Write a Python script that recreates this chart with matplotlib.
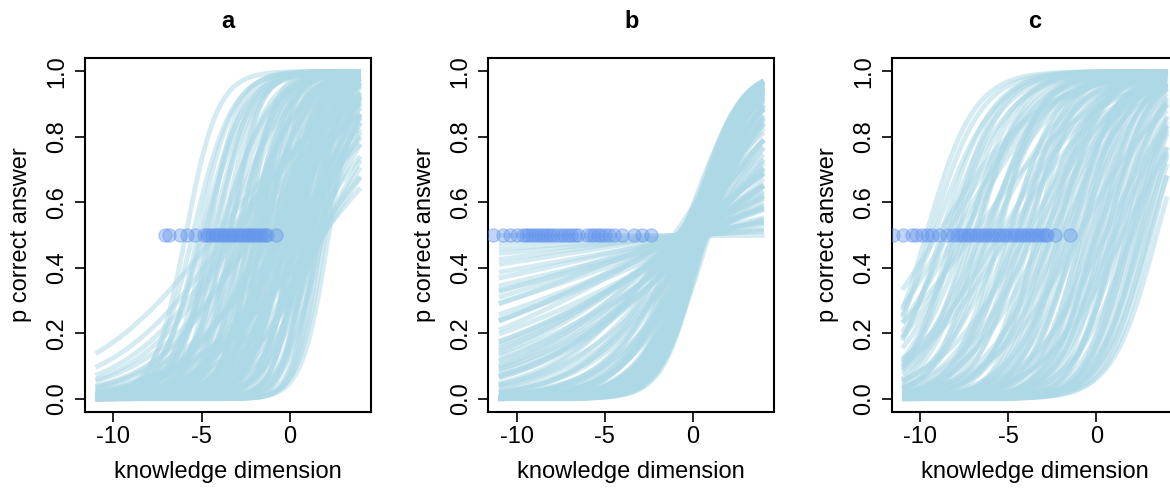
import numpy as np
import matplotlib
matplotlib.use('Agg')
import matplotlib.pyplot as plt

plt.rcParams['font.family'] = ['Liberation Sans', 'DejaVu Sans']
plt.rcParams['axes.unicode_minus'] = False

panel_titles = ['a', 'b', 'c']
x_from, x_to = -11, 4
x_ticks = [-10, -5, 0]
y_ticks = [0.0, 0.2, 0.4, 0.6, 0.8, 1.0]

# logistic curves, one (slope, location) pair per line
slopes_a = [1.1, 0.9, 1.0, 0.8, 1.2, 0.9, 0.7, 1.1, 0.8, 1.3, 0.9, 0.6, 1.0, 1.4,
            0.8, 1.1, 0.7, 1.2, 0.9, 1.5, 1.0, 0.8, 1.3, 1.1, 0.9, 1.6, 1.2, 1.0,
            1.4, 1.8, 1.5, 1.2, 1.7, 1.6, 1.5, 1.35, 0.75, 0.65, 0.7, 0.6, 0.75,
            0.95, 1.05, 0.85,
            0.85, 1.0, 0.95, 1.15, 0.75, 0.9, 1.25, 0.8, 1.0, 1.1, 0.7, 0.95, 1.2,
            0.85, 1.3, 0.9, 1.05, 0.8, 1.4, 1.0, 0.9, 1.15, 0.75, 1.25, 1.1, 0.95,
            1.3, 1.0, 0.85, 1.2, 1.5, 1.1, 0.9, 1.35, 1.0, 1.6, 1.25, 1.45, 0.8, 0.7,
            0.27, 0.3, 0.35, 0.4, 0.32, 0.45, 0.38, 0.5, 0.3, 0.42, 0.55, 0.35,
            0.6, 0.3, 0.45, 0.27, 0.5, 0.4, 0.35,
            0.33, 0.37, 0.42, 0.48, 0.52, 0.58, 0.62, 0.44, 0.36, 0.55]
centres_a = [-5.9, -5.5, -5.2, -4.9, -4.6, -4.3, -4.0, -3.8, -3.5, -3.3, -3.0, -2.8,
             -2.6, -2.4, -2.2, -2.0, -1.8, -1.6, -1.4, -1.2, -1.0, -0.8, -0.6, -0.4,
             -0.2, 0.0, 0.2, 0.4, 0.6, 0.8, 1.0, 1.2, 1.4, 1.6, 1.8, 2.2, -0.9, 0.1,
             1.0, -3.6, 1.6, 0.9, -1.9, 0.0,
             -5.0, -4.7, -4.4, -4.1, -3.9, -3.6, -3.4, -3.1, -2.9, -2.7, -2.5, -2.3,
             -2.1, -1.9, -1.7, -1.5, -1.3, -1.1, -0.9, -0.7, -0.5, -0.3, -0.1, 0.1,
             0.3, 0.5, 0.7, 0.9, 1.1, 1.3, 1.5, 1.7, 1.9, 2.0, -0.2, 0.4, 0.8, 1.2,
             -1.6, -0.6,
             -4.2, -3.5, -3.0, -2.5, -2.0, -1.5, -1.0, -0.5, -0.2, 0.3, 0.6, 1.0,
             1.2, 1.5, 1.8, 1.8, 1.5, 1.8, 1.9,
             -3.2, -2.2, -1.2, -0.3, 0.5, 1.1, 1.6, 0.8, 0.2, -0.8]

slopes_b = [0.0, 0.01, 0.02, 0.03, 0.04, 0.05, 0.06, 0.07, 0.08, 0.09, 0.1, 0.11,
            0.12, 0.13, 0.14, 0.15, 0.16, 0.17, 0.18, 0.19, 0.2, 0.21, 0.22, 0.23,
            0.24,
            0.015, 0.035, 0.055, 0.075, 0.095, 0.115, 0.135, 0.155, 0.175, 0.195,
            0.215, 0.235,
            0.27, 0.3, 0.32, 0.35, 0.38, 0.4, 0.43, 0.46, 0.5, 0.53, 0.56, 0.6,
            0.63, 0.66, 0.7, 0.72, 0.75, 0.78, 0.81, 0.82, 0.85, 0.87, 0.9, 0.93,
            0.92, 0.98, 1.0, 0.6, 0.7, 0.8, 0.9, 0.5, 0.65, 0.75, 0.85,
            0.26, 0.29, 0.31, 0.34, 0.37, 0.39, 0.42, 0.45, 0.48, 0.51, 0.54, 0.57,
            0.59, 0.62, 0.64, 0.67, 0.69, 0.71, 0.73, 0.76, 0.79, 0.83, 0.86, 0.88,
            0.91, 0.94, 0.96, 0.55, 0.65, 0.77, 0.84, 0.89, 0.97]
centres_b = [0.0, -0.5, 0.3, -0.9, 0.6, -0.2, 0.8, -0.7, 0.1, -1.0, 0.5, -0.4,
             0.7, -0.8, 0.2, -0.1, 0.9, -0.6, 0.4, -0.3, 0.0, 0.6, -0.9, 0.3,
             -0.2,
             0.4, -0.6, 0.7, -0.3, 0.2, -0.8, 0.5, 0.0, -0.5, 0.8, -0.1, 0.3,
             0.5, -0.9, -1.08, 0.2, -0.5, 0.7, -0.2, 0.4, -0.7, 0.1, 0.8, -0.4,
             0.3, -0.1, 0.9, 0.5, -0.3, 0.2, -0.14, 0.6, 0.7, 0.0, 0.4, 0.3,
             0.2, 0.45, 0.5, 0.6, 0.2, 0.35, 0.25, 0.3, 0.5, 0.45, 0.35,
             -0.6, 0.6, -0.3, 0.1, 0.8, -0.8, 0.3, -0.5, 0.5, 0.0, 0.7, -0.2,
             0.4, -0.6, 0.2, 0.8, -0.1, 0.35, 0.55, 0.1, 0.3, 0.45, 0.6, 0.15,
             0.5, 0.4, 0.35, -0.45, 0.65, 0.05, 0.25, 0.55, 0.45]

slopes_c = [0.74, 0.6, 0.7, 0.55, 0.8, 0.65, 0.5, 0.75, 0.6, 0.85, 0.55, 0.7, 0.65,
            0.9, 0.5, 0.75, 0.6, 0.8, 0.7, 0.55, 0.95, 0.65, 0.8, 0.6, 0.9, 0.7,
            0.75, 0.85, 0.6, 0.95, 0.7, 0.8, 0.9, 0.75, 1.0, 0.85, 0.7, 0.95, 0.8,
            0.9, 0.75, 0.85, 0.8,
            0.7, 0.62, 0.78, 0.58, 0.72, 0.66, 0.82, 0.68, 0.74, 0.6, 0.88, 0.7,
            0.64, 0.8, 0.76, 0.9, 0.68, 0.84, 0.72, 0.78, 0.86, 0.92, 0.74, 0.8,
            0.88, 0.7, 0.82, 0.96, 0.78, 0.86, 0.9, 0.84, 0.76, 0.85, 0.8, 0.88,
            0.94, 0.82, 0.9,
            0.35, 0.4, 0.3, 0.45, 0.35, 0.4, 0.45, 0.5, 0.4, 0.55, 0.5, 0.6, 0.45,
            0.38, 0.42, 0.48, 0.36, 0.52, 0.44, 0.5, 0.58, 0.46]
centres_c = [-9.65, -9.2, -8.8, -8.5, -8.2, -7.9, -7.6, -7.3, -7.0, -6.7, -6.4, -6.1,
             -5.8, -5.5, -5.2, -4.9, -4.6, -4.3, -4.0, -3.7, -3.4, -3.1, -2.8, -2.5,
             -2.2, -1.9, -1.6, -1.3, -1.0, -0.7, -0.4, -0.1, 0.2, 0.5, 0.8, 1.1,
             1.4, 1.7, 2.0, 2.3, 2.6, 2.9, 3.4,
             -9.4, -8.6, -8.0, -7.4, -6.9, -6.2, -5.6, -5.0, -4.5, -4.1, -3.8, -3.3,
             -2.9, -2.6, -2.3, -2.0, -1.7, -1.4, -1.1, -0.8, -0.5, -0.2, 0.1, 0.4,
             0.6, 0.9, 1.2, 1.5, 1.8, 2.1, 2.4, 2.7, 3.0, 3.1, 2.5, 1.9,
             1.0, 0.0, -0.9,
             -9.0, -8.0, -7.0, -6.0, -5.0, -4.0, -3.0, -2.0, -1.0, 0.0, 1.0, 2.0, 1.5,
             -8.5, -7.5, -6.5, -5.5, -4.5, -3.5, -2.5, -1.5, 0.5]

# positions of the points drawn at p = 0.5
points_a = [-7.06, -6.85, -6.2, -5.83, -5.35, -4.88, -4.7, -4.55, -4.4, -4.25, -4.1,
            -3.95, -3.8, -3.65, -3.5, -3.35, -3.2, -3.05, -2.9, -2.75, -2.6, -2.45,
            -2.3, -2.15, -2.0, -1.85, -1.7, -1.55, -1.4, -1.27, -0.8]
points_b = [-11.33, -10.76, -10.38, -10.0, -9.62, -9.45, -9.3, -9.1, -8.95, -8.8,
            -8.6, -8.45, -8.3, -8.1, -7.92, -7.72, -7.5, -7.3, -7.1, -6.9, -6.7,
            -6.5, -6.01, -5.8, -5.6, -5.4, -5.2, -5.0, -4.75, -4.5, -4.02, -3.36,
            -2.88, -2.41]
points_c = [-11.5, -10.95, -10.47, -10.2, -9.9, -9.6, -9.3, -8.9, -8.48, -8.1, -7.9,
            -7.7, -7.5, -7.3, -7.1, -6.9, -6.7, -6.5, -6.3, -6.1, -5.9, -5.7, -5.5,
            -5.3, -5.1, -4.9, -4.7, -4.5, -4.3, -4.1, -3.9, -3.7, -3.5, -3.3, -3.1,
            -2.9, -2.8, -2.33, -1.48]


def logistic(x, slope, centre):
    return 1.0 / (1.0 + np.exp(-slope * (x - centre)))


def draw_panel(ax, title, slopes, centres, points):
    xs = np.linspace(x_from, x_to, 300)
    for s, c in zip(slopes, centres):
        ax.plot(xs, logistic(xs, s, c), color='lightblue', lw=3.5, alpha=0.5,
                solid_capstyle='butt')
    ax.scatter(points, [0.5] * len(points), s=90, color='cornflowerblue',
               alpha=0.4, edgecolors='cornflowerblue', linewidths=1.0, zorder=3)
    ax.set_xlim(-11.6, 4.6)
    ax.set_ylim(-0.04, 1.04)
    ax.set_xticks(x_ticks)
    ax.set_yticks(y_ticks)
    ax.set_yticklabels(['%.1f' % v for v in y_ticks], rotation=90, va='center')
    ax.tick_params(length=7, width=1.2, labelsize=17)
    ax.tick_params(axis='x', pad=3)
    ax.tick_params(axis='y', pad=5)
    for sp in ax.spines.values():
        sp.set_linewidth(1.5)
    ax.set_xlabel('knowledge dimension', fontsize=17, labelpad=10)
    ax.set_ylabel('p correct answer', fontsize=17, labelpad=10)
    ax.set_title(title, fontsize=17, fontweight='bold', pad=22)


W, H = 1170, 492
fig = plt.figure(figsize=(W / 100, H / 100), dpi=100)
lefts = [85, 488.3, 891.7]
data = [(slopes_a, centres_a, points_a),
        (slopes_b, centres_b, points_b),
        (slopes_c, centres_c, points_c)]
for left, title, (s, c, p) in zip(lefts, panel_titles, data):
    ax = fig.add_axes([left / W, (H - 411.7) / H, 286 / W, 353.4 / H])
    draw_panel(ax, title, s, c, p)

fig.savefig('out.png', dpi=100)
